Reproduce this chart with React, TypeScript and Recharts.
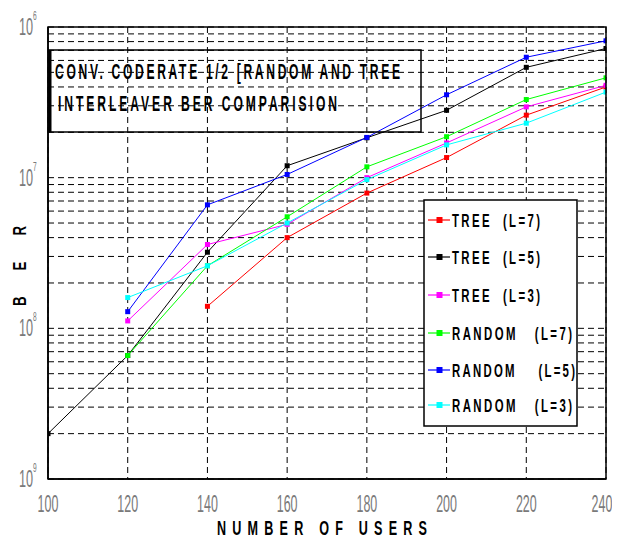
import { LineChart, Line, XAxis, YAxis, CartesianGrid, Legend } from 'recharts';

const users = [100, 120, 140, 160, 180, 200, 220, 240];
const treeL7 = [null, null, 1.4e-8, 4.0e-8, 7.9e-8, 1.36e-7, 2.6e-7, 4.0e-7];
const treeL5 = [2.0e-9, 6.6e-9, 3.2e-8, 1.2e-7, 1.84e-7, 2.8e-7, 5.4e-7, 7.2e-7];
const treeL3 = [null, 1.12e-8, 3.6e-8, 4.9e-8, 1.0e-7, 1.7e-7, 2.95e-7, 4.1e-7];
const randomL7 = [null, 6.6e-9, 2.6e-8, 5.5e-8, 1.18e-7, 1.87e-7, 3.3e-7, 4.6e-7];
const randomL5 = [null, 1.29e-8, 6.6e-8, 1.05e-7, 1.85e-7, 3.55e-7, 6.3e-7, 8.1e-7];
const randomL3 = [null, 1.6e-8, 2.6e-8, 5.0e-8, 9.7e-8, 1.65e-7, 2.3e-7, 3.7e-7];

const xTicks = [100, 120, 140, 160, 180, 200, 220, 240];
const yTicks = [
    1e-9, 2e-9, 3e-9, 4e-9, 5e-9, 6e-9, 7e-9, 8e-9, 9e-9,
    1e-8, 2e-8, 3e-8, 4e-8, 5e-8, 6e-8, 7e-8, 8e-8, 9e-8,
    1e-7, 2e-7, 3e-7, 4e-7, 5e-7, 6e-7, 7e-7, 8e-7, 9e-7,
    1e-6,
];
const decadeLabels: Record<string, string> = { '1e-9': '9', '1e-8': '8', '1e-7': '7', '0.000001': '6' };

const titleLines = ['CONV. CODERATE 1/2 [RANDOM AND TREE', 'INTERLEAVER BER COMPARISION'];
const xLabel = 'N U M B E R   O F   U S E R S';
const yLabel = 'B  E  R';

const series = [
    { key: 'treeL7', name: 'TREE  (L=7)', color: '#ff0000', values: treeL7 },
    { key: 'treeL5', name: 'TREE  (L=5)', color: '#000000', values: treeL5 },
    { key: 'treeL3', name: 'TREE  (L=3)', color: '#ff00ff', values: treeL3 },
    { key: 'randomL7', name: 'RANDOM   (L=7)', color: '#00ff00', values: randomL7 },
    { key: 'randomL5', name: 'RANDOM    (L=5)', color: '#0000ff', values: randomL5 },
    { key: 'randomL3', name: 'RANDOM   (L=3)', color: '#00ffff', values: randomL3 },
];

const data = users.map((u, i) => {
    const row: Record<string, number | null> = { users: u };
    series.forEach((s) => (row[s.key] = s.values[i]));
    return row;
});

const FONT = '"Liberation Sans", Arial, sans-serif';

// narrow, stretched text like the old matlab export
function CondText({ x, y, w, size, sx, text, fill = '#000', weight = 'bold' }: any) {
    return (
        <text
            transform={`translate(${x},${y}) scale(${sx},1)`}
            fontFamily={FONT}
            fontSize={size}
            fontWeight={weight}
            fill={fill}
            textLength={w / sx}
            lengthAdjust="spacing"
            style={{ whiteSpace: 'pre' }}
        >
            {text}
        </text>
    );
}

function SquareDot(props: any) {
    const { cx, cy, stroke, value } = props;
    if (value == null || cx == null || cy == null) return null;
    return <rect x={cx - 2.5} y={cy - 2.5} width={5} height={5} fill={stroke} />;
}

function XTick({ x, y, payload }: any) {
    // last label sits a bit inside so it is not cut by the page edge
    const dx = payload.value === 240 ? -4 : 0;
    return (
        <text
            transform={`translate(${x + dx},${y + 25}) scale(0.52,1)`}
            textAnchor="middle"
            fontFamily={FONT}
            fontSize={24}
            fill="#7a7a7a"
        >
            {payload.value}
        </text>
    );
}

function YTick({ x, y, payload }: any) {
    const sup = decadeLabels[String(payload.value)];
    if (!sup) return null;
    return (
        <text
            transform={`translate(${x - 21},${y + 8}) scale(0.55,1)`}
            fontFamily={FONT}
            fontSize={23}
            fill="#7a7a7a"
        >
            10
            <tspan dy={-15} fontSize={12}>{sup}</tspan>
        </text>
    );
}

const legendWidths: Record<string, number> = {
    treeL7: 88, treeL5: 88, treeL3: 88, randomL7: 120, randomL5: 123, randomL3: 120,
};

function LegendBox() {
    const rows = [21, 58, 96, 134, 171, 206];
    return (
        <svg width={155} height={228} style={{ display: 'block' }}>
            <rect x={1} y={1} width={153} height={226} fill="#fff" stroke="#000" strokeWidth={1.5} />
            {series.map((s, i) => (
                <g key={s.key}>
                    <line x1={5} x2={27} y1={rows[i]} y2={rows[i]} stroke={s.color} strokeWidth={1.2} />
                    <rect x={13.5} y={rows[i] - 3} width={6} height={6} fill={s.color} />
                    <CondText x={29} y={rows[i] + 7} w={legendWidths[s.key]} size={19} sx={0.6} text={s.name} />
                </g>
            ))}
        </svg>
    );
}

export default function App() {
    return (
        <div style={{ position: 'relative', width: 612, height: 533, background: '#fff' }}>
            <LineChart
                width={612}
                height={533}
                data={data}
                margin={{ top: 19, right: 14, left: 0, bottom: 32 }}
            >
                <CartesianGrid stroke="#000" strokeDasharray="6 4" strokeWidth={1} />
                <XAxis
                    dataKey="users"
                    type="number"
                    domain={[100, 240]}
                    ticks={xTicks}
                    allowDataOverflow
                    height={30}
                    axisLine={{ stroke: '#000', strokeWidth: 1.5 }}
                    tickLine={false}
                    tick={<XTick />}
                    interval={0}
                />
                <YAxis
                    type="number"
                    scale="log"
                    domain={[1e-9, 1e-6]}
                    ticks={yTicks}
                    allowDataOverflow
                    width={40}
                    axisLine={{ stroke: '#000', strokeWidth: 1.5 }}
                    tickLine={false}
                    tick={<YTick />}
                    interval={0}
                />
                {series.map((s) => (
                    <Line
                        key={s.key}
                        dataKey={s.key}
                        name={s.name}
                        stroke={s.color}
                        strokeWidth={1}
                        dot={<SquareDot />}
                        activeDot={false}
                        isAnimationActive={false}
                    />
                ))}
                <Legend
                    layout="vertical"
                    align="center"
                    verticalAlign="middle"
                    wrapperStyle={{ left: 415, top: 191, width: 155, height: 228 }}
                    content={() => <LegendBox />}
                />
            </LineChart>
            <svg
                width={612}
                height={533}
                style={{ position: 'absolute', left: 0, top: 0, pointerEvents: 'none' }}
            >
                <rect x={40} y={19} width={558} height={452} fill="none" stroke="#000" strokeWidth={1.5} />
                <rect x={41} y={42} width={372} height={82} fill="none" stroke="#000" strokeWidth={1.5} />
                <line x1={42} x2={42} y1={42} y2={124} stroke="#000" strokeWidth={3} />
                <CondText x={47} y={71} w={345} size={22} sx={0.55} text={titleLines[0]} />
                <CondText x={50} y={103} w={279} size={22} sx={0.55} text={titleLines[1]} />
                <CondText x={209} y={527} w={210} size={21} sx={0.6} text={xLabel} />
                <g transform="translate(18,298) rotate(-90)">
                    <CondText x={0} y={0} w={80} size={19} sx={0.7} text={yLabel} />
                </g>
            </svg>
        </div>
    );
}
